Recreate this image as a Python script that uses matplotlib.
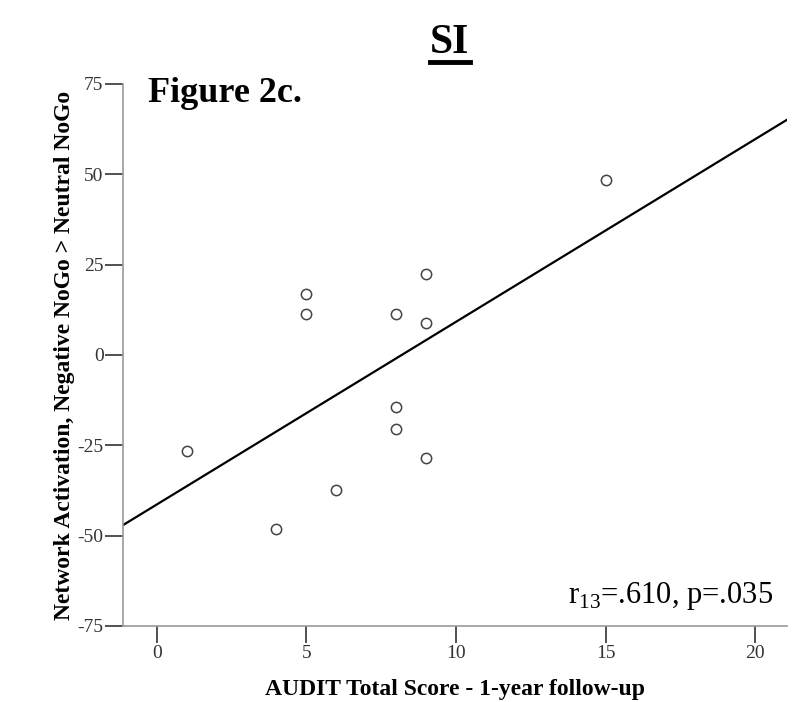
import matplotlib
matplotlib.use("Agg")
import matplotlib.pyplot as plt
from matplotlib.lines import Line2D
import numpy as np

plt.rcParams['font.family'] = ['Liberation Serif', 'DejaVu Serif']
plt.rcParams['mathtext.fontset'] = 'custom'
plt.rcParams['mathtext.rm'] = 'Liberation Serif'
plt.rcParams['axes.unicode_minus'] = False

# data
audit_score = [1, 5, 5, 6, 4, 8, 8, 8, 9, 9, 9, 15]
activation = [-26.6, 16.8, 11.4, -37.4, -48.3, 11.4, -14.5, -20.6, 22.3, 8.8, -28.5, 48.4]
x_ticks = [0, 5, 10, 15, 20]
y_ticks = [-75, -50, -25, 0, 25, 50, 75]

fig = plt.figure(figsize=(8.04, 7.02), dpi=100)
ax = fig.add_axes([0.153, 0.1083, 0.826, 0.7721])

ax.scatter(audit_score, activation, s=55, facecolors='white', edgecolors='#444444',
           linewidths=1.1, zorder=3)

# least squares fit line across whole axis
xlim = (-1.13, 21.07)
slope, intercept = np.polyfit(audit_score, activation, 1)
xs = np.array(xlim)
ax.plot(xs, slope * xs + intercept, color='black', lw=1.6, zorder=2)

ax.set_xlim(*xlim)
ax.set_ylim(-75, 75)
ax.set_xticks(x_ticks)
ax.set_yticks(y_ticks)
ax.tick_params(axis='both', direction='out', width=1.2, color='#333333',
               labelsize=14, labelcolor='#333333')
ax.tick_params(axis='x', length=12, pad=2)
ax.tick_params(axis='y', length=13, pad=1)

for side in ['top', 'right']:
    ax.spines[side].set_visible(False)
for side in ['left', 'bottom']:
    ax.spines[side].set_color('#999999')
    ax.spines[side].set_linewidth(1.2)

ax.set_xlabel('AUDIT Total Score - 1-year follow-up', fontsize=17, fontweight='bold')
ax.xaxis.set_label_coords(0.5, -0.097)
ax.set_ylabel('Network Activation, Negative NoGo > Neutral NoGo', fontsize=17,
              fontweight='bold')
ax.yaxis.set_label_coords(-0.072, 0.5)

ax.text(0.979, 0.042, r'r$_{13}$=.610, p=.035', transform=ax.transAxes, ha='right',
        va='baseline', fontsize=22)

fig.text(0.184, 0.855, 'Figure 2c.', fontsize=26, fontweight='bold', ha='left', va='baseline')
fig.text(0.559, 0.925, 'SI', fontsize=30, fontweight='bold', ha='center', va='baseline')
fig.add_artist(Line2D([0.535, 0.585], [0.912, 0.912], color='black', lw=3.5))

fig.savefig('out.png', dpi=100)
